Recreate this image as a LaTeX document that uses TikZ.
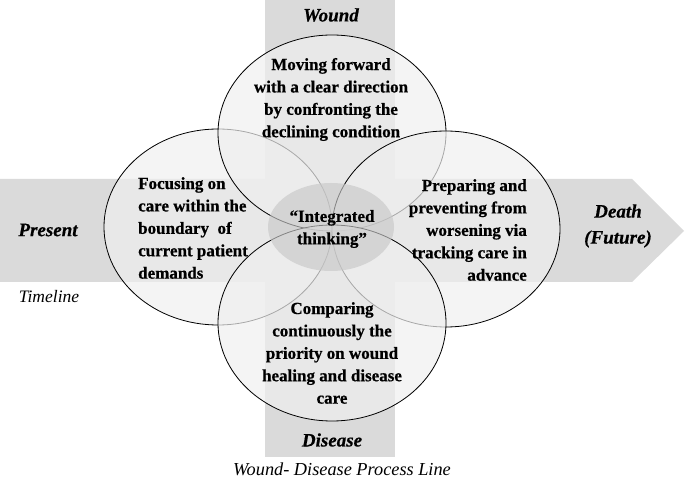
\documentclass[tikz,border=0pt]{standalone}
\usepackage{fontspec}
\setmainfont{Liberation Serif}
\newfontfamily\heavyfont{Liberation Serif Bold}[FakeBold=0.6]
\newfontfamily\heavyitfont{Liberation Serif Bold Italic}[FakeBold=0.5]
\usetikzlibrary{shapes.geometric}
\definecolor{barcol}{HTML}{DADADA}
\definecolor{circfill}{HTML}{EFEFEF}
\definecolor{midfill}{HTML}{C8C8C8}
\tikzset{
  bar/.style={fill=barcol, draw=none},
  circ/.style={ellipse, draw=black, line width=0.8pt, fill=circfill, fill opacity=0.7, draw opacity=1,
     minimum width=228pt, minimum height=196pt, inner sep=0pt, outer sep=0pt},
  mid/.style={ellipse, fill=midfill, fill opacity=0.65, draw=none,
     minimum width=126pt, minimum height=88pt, inner sep=0pt},
  body/.style={font=\heavyfont\fontsize{17}{22.4}\selectfont, inner sep=0pt, text=black},
  lab/.style={font=\heavyitfont\fontsize{19}{26}\selectfont, inner sep=0pt, align=center},
  capt/.style={font=\fontsize{17.5}{21}\selectfont\itshape, inner sep=0pt},
}
\begin{document}
\begin{tikzpicture}[x=1pt, y=-1pt]
\useasboundingbox (0,0) rectangle (685,478);
% background bars
\fill[bar] (0,179) -- (632,179) -- (684,231) -- (632,282) -- (0,282) -- cycle;
\fill[bar] (265,0) rectangle (395,457);
% circles
\node[circ] (L) at (218,227) {};
\node[circ] (T) at (332,133) {};
\node[circ] (R) at (446,229) {};
\node[circ] (B) at (332,323) {};
\node[mid] (M) at (331,227) {};
% texts
\node[body, align=center] (tT) at (331,99.5) {Moving forward\\with a clear direction\\by confronting the\\declining condition};
\node[body, align=left, anchor=west] (tL) at (138,228) {Focusing on\\care within the\\boundary\ \ of\\current patient\\demands};
\node[body, align=right, anchor=east] (tR) at (527,230) {Preparing and\\preventing from\\worsening via\\tracking care in\\advance};
\node[body, align=center] (tB) at (332,353) {Comparing\\continuously the\\priority on wound\\healing and disease\\care};
\node[body, align=center] (tM) at (332,229) {“Integrated\\thinking”};
% labels
\node[lab] (wound) at (331,15) {Wound};
\node[lab] (disease) at (332,440) {Disease};
\node[lab] (present) at (48,230) {Present};
\node[lab] (death) at (618,226) {Death\\(Future)};
\node[capt] (timeline) at (49,297) {Timeline};
\node[capt, font=\fontsize{18.3}{21}\selectfont\itshape] (caption) at (342,469) {Wound- Disease Process Line};
\end{tikzpicture}
\end{document}
